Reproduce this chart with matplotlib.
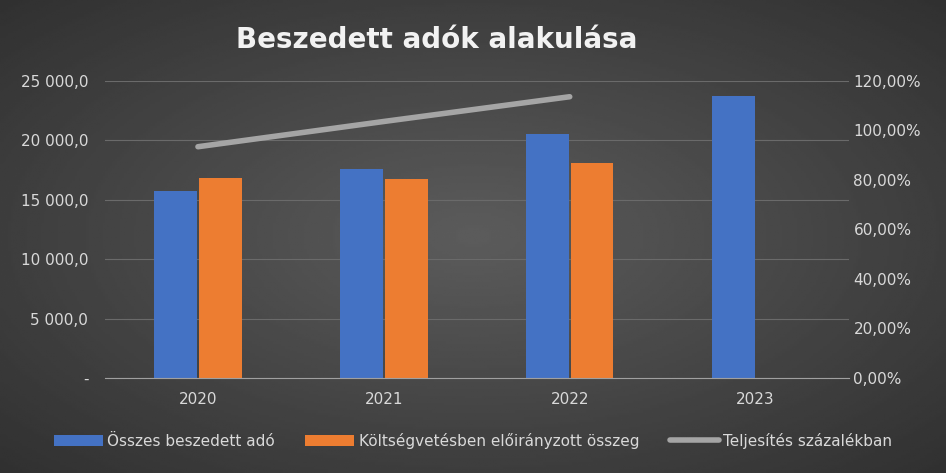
import matplotlib
matplotlib.use("Agg")
import matplotlib.pyplot as plt
import numpy as np
from matplotlib.ticker import FuncFormatter

years = ["2020", "2021", "2022", "2023"]
osszes = [15750, 17550, 20550, 23700]
koltseg = [16850, 16750, 18050, np.nan]
teljesites = [93.4, 103.6, 113.6, np.nan]

fig = plt.figure(figsize=(9.46, 4.73), dpi=100)
yy, xx = np.mgrid[-1:1:200j, -1:1:400j]
r = np.sqrt(xx**2 + yy**2)
bg = np.clip(0.36 - 0.12 * r, 0.15, 0.4)
bgax = fig.add_axes([0, 0, 1, 1])
bgax.imshow(bg, cmap="gray", vmin=0, vmax=1, aspect="auto", extent=[0, 1, 0, 1])
bgax.axis("off")

ax = fig.add_axes([0.111, 0.201, 0.786, 0.628])
ax.patch.set_alpha(0)
x = np.arange(len(years))
w = 0.23
ax.bar(x - w/2 - 0.005, osszes, w, color="#4472c4", label="Összes beszedett adó")
ax.bar(x + w/2 + 0.005, koltseg, w, color="#ed7d31", label="Költségvetésben előirányzott összeg")
ax.set_ylim(0, 25000)
ax.set_xlim(-0.5, 3.5)
ax.set_yticks(np.arange(0, 25001, 5000))
ax.yaxis.set_major_formatter(FuncFormatter(lambda v, p: "-" if v == 0 else f"{int(v):,}".replace(",", " ") + ",0"))
ax.set_xticks(x)
ax.set_xticklabels(years)
ax.grid(axis="y", color="#6a6a6a", lw=0.8)
ax.set_axisbelow(True)
for s in ["top", "right", "left"]:
    ax.spines[s].set_visible(False)
ax.spines["bottom"].set_color("#a0a0a0")
ax.tick_params(colors="#d9d9d9", labelsize=11, length=0)
ax.tick_params(axis="y", pad=12)
ax.tick_params(axis="x", pad=10)

ax2 = ax.twinx()
ax2.plot(x, teljesites, color="#a5a5a5", lw=4, solid_capstyle="round", label="Teljesítés százalékban")
ax2.set_ylim(0, 120)
ax2.set_yticks(np.arange(0, 121, 20))
ax2.yaxis.set_major_formatter(FuncFormatter(lambda v, p: f"{v:.2f}".replace(".", ",") + "%"))
for s in ax2.spines.values():
    s.set_visible(False)
ax2.tick_params(colors="#d9d9d9", labelsize=11, length=0)

fig.text(0.462, 0.915, "Beszedett adók alakulása", ha="center", va="center",
         fontsize=20, fontweight="bold", color="#f2f2f2")
h1, l1 = ax.get_legend_handles_labels()
h2, l2 = ax2.get_legend_handles_labels()
fig.legend(h1 + h2, l1 + l2, loc="center", bbox_to_anchor=(0.5, 0.068), ncol=3,
           frameon=False, labelcolor="#d9d9d9", fontsize=11, handlelength=3.2,
           handletextpad=0.3, columnspacing=2.0)
fig.savefig("out.png", dpi=100)
